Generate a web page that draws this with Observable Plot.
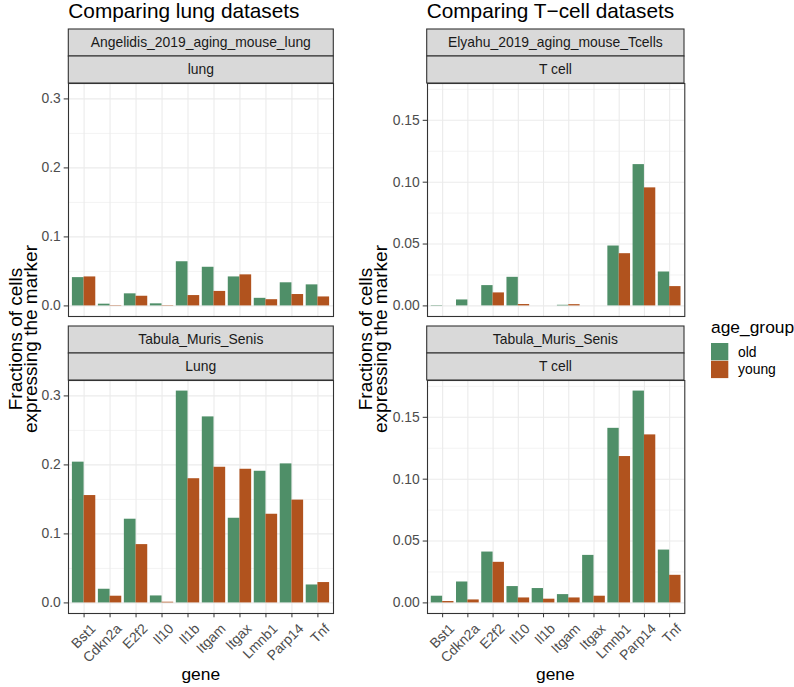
<!DOCTYPE html>
<html><head><meta charset="utf-8">
<script src="https://cdn.jsdelivr.net/npm/d3@7"></script>
<script src="https://cdn.jsdelivr.net/npm/@observablehq/plot@0.6"></script>
<style>
body{margin:0;background:#fff;}
#chart{position:relative;width:794px;height:687px;overflow:hidden;font-family:"Liberation Sans",Arial,Helvetica,sans-serif;}
#chart svg{position:absolute;}
svg.panel g[aria-label^="y-axis"] text{fill:#4D4D4D;}
</style></head><body><div id="chart"></div>
<script>
// ---- data ----
const genes = ["Bst1","Cdkn2a","E2f2","Il10","Il1b","Itgam","Itgax","Lmnb1","Parp14","Tnf"];
const ageGroups = ["old","young"];
const ageColors = ["#4F8F68","#B1531E"];

const angelidisLungOld   = [0.041, 0.0025, 0.0175, 0.003, 0.064, 0.056, 0.042, 0.011, 0.0335, 0.0305];
const angelidisLungYoung = [0.042, 0.0005, 0.014, 0.0005, 0.015, 0.021, 0.045, 0.009, 0.0165, 0.013];
const tmsLungOld   = [0.204, 0.0198, 0.1213, 0.0101, 0.307, 0.2696, 0.1227, 0.1908, 0.2015, 0.026];
const tmsLungYoung = [0.1556, 0.0097, 0.0845, 0.001, 0.180, 0.1966, 0.1937, 0.1285, 0.149, 0.0295];
const elyahuTcellOld   = [0.0003, 0.0048, 0.0164, 0.0231, 0, 0.0005, 0, 0.0484, 0.1142, 0.0274];
const elyahuTcellYoung = [0, 0, 0.0105, 0.0011, 0, 0.001, 0, 0.0422, 0.0954, 0.0156];
const tmsTcellOld   = [0.0054, 0.0169, 0.0411, 0.0132, 0.0116, 0.0067, 0.0384, 0.1411, 0.1712, 0.0427];
const tmsTcellYoung = [0.0011, 0.0024, 0.0328, 0.004, 0.003, 0.004, 0.0054, 0.1183, 0.1358, 0.0223];

const lungTicks  = [0, 0.1, 0.2, 0.3];
const lungMinor  = [0.05, 0.15, 0.25];
const tcellTicks = [0, 0.05, 0.10, 0.15];
const tcellMinor = [0.025, 0.075, 0.125, 0.175];

const columnTitles = ["Comparing lung datasets", "Comparing T\u2212cell datasets"];
const datasetStrips = ["Angelidis_2019_aging_mouse_lung", "Elyahu_2019_aging_mouse_Tcells", "Tabula_Muris_Senis", "Tabula_Muris_Senis"];
const cellStrips = ["lung", "T cell", "Lung", "T cell"];
const yTitleLines = ["Fractions of cells", "expressing the marker"];
const xTitle = "gene";
const legendTitle = "age_group";

// ---- layout ----
const W = 794, H = 687;
const cols = [{left: 68.3, right: 333.3}, {left: 426.7, right: 684}];
const rows = [{top: 83, bottom: 316}, {top: 380, bottom: 613}];
const stripH = 27;
const FONT = "'Liberation Sans', Arial, Helvetica, sans-serif";

const chart = document.getElementById("chart");

function panel(old, young, ticks, minor, fmt, yMax, col, row, showX) {
  const c = cols[col], r = rows[row];
  const innerW = c.right - c.left, innerH = r.bottom - r.top;
  const mL = 55, mR = 6, mT = 6, mB = showX ? H - r.bottom : 6;
  const step = innerW / (genes.length - 0.1 + 0.3);
  const half = step * 0.9 / 2;
  const rowsData = genes.map((g, i) => ({gene: g, old: old[i], young: young[i]}));
  const marks = [
    Plot.ruleY(minor, {stroke: "#EBEBEB", strokeWidth: 0.6}),
    Plot.ruleY(ticks, {stroke: "#EBEBEB", strokeWidth: 1.1}),
    Plot.ruleX(genes, {x: d => d, stroke: "#EBEBEB", strokeWidth: 1.1}),
    Plot.barY(rowsData, {x: "gene", y: "old", fill: ageColors[0], insetRight: half}),
    Plot.barY(rowsData, {x: "gene", y: "young", fill: ageColors[1], insetLeft: half}),
    Plot.frame({stroke: "#333333", strokeWidth: 1.1})
  ];
  if (showX) {
    marks.push(Plot.text(genes, {x: d => d, frameAnchor: "bottom", rotate: -45, textAnchor: "end",
      lineAnchor: "top", dx: 5.5, dy: 9, fill: "#4D4D4D", fontSize: 13.9}));
  }
  const svg = Plot.plot({
    width: mL + innerW + mR,
    height: mT + innerH + mB,
    marginLeft: mL, marginRight: mR, marginTop: mT, marginBottom: mB,
    className: "panel",
    style: {fontFamily: FONT, fontSize: "13.9px", color: "#333333", background: "transparent", overflow: "visible"},
    x: {type: "band", domain: genes, paddingInner: 0.1, paddingOuter: 0.15, align: 0.5, round: false,
        axis: showX ? "bottom" : null, tickFormat: () => "", tickSize: 4.3, label: null},
    y: {domain: [-0.05 * yMax, 1.05 * yMax], ticks: ticks, tickFormat: d3.format(fmt),
        tickSize: 4.3, tickPadding: 3.4, label: null},
    marks
  });
  svg.classList.add("panel");
  svg.style.left = (c.left - mL) + "px";
  svg.style.top = (r.top - mT) + "px";
  chart.appendChild(svg);
}

const lungMax = d3.max([...angelidisLungOld, ...angelidisLungYoung, ...tmsLungOld, ...tmsLungYoung]);
const tcellMax = d3.max([...elyahuTcellOld, ...elyahuTcellYoung, ...tmsTcellOld, ...tmsTcellYoung]);

panel(angelidisLungOld, angelidisLungYoung, lungTicks, lungMinor, ".1f", lungMax, 0, 0, false);
panel(tmsLungOld, tmsLungYoung, lungTicks, lungMinor, ".1f", lungMax, 0, 1, true);
panel(elyahuTcellOld, elyahuTcellYoung, tcellTicks, tcellMinor, ".2f", tcellMax, 1, 0, false);
panel(tmsTcellOld, tmsTcellYoung, tcellTicks, tcellMinor, ".2f", tcellMax, 1, 1, true);

// ---- overlay: titles, strips, axis titles, legend ----
const ov = d3.select(chart).append("svg")
  .attr("width", W).attr("height", H)
  .style("left", "0px").style("top", "0px")
  .style("font-family", FONT);

// strips
[0, 1].forEach(row => [0, 1].forEach(col => {
  const c = cols[col], r = rows[row];
  const idx = row * 2 + col;
  const labels = [datasetStrips[idx], cellStrips[idx]];
  labels.forEach((lab, k) => {
    const y0 = r.top - stripH * (2 - k);
    ov.append("rect").attr("x", c.left).attr("y", y0).attr("width", c.right - c.left).attr("height", stripH)
      .attr("fill", "#D9D9D9").attr("stroke", "#333333").attr("stroke-width", 1.1);
    ov.append("text").attr("x", (c.left + c.right) / 2).attr("y", y0 + stripH / 2)
      .attr("dy", "0.35em").attr("text-anchor", "middle").attr("font-size", 13.9)
      .attr("fill", "#1A1A1A").text(lab);
  });
}));

// column titles
columnTitles.forEach((t, col) => {
  ov.append("text").attr("x", cols[col].left).attr("y", 17.5)
    .attr("font-size", 20.8).attr("fill", "#000").text(t);
});

// y titles
const yTitleX = [[21.5, 36.5], [371.5, 386.5]];
[0, 1].forEach(col => {
  yTitleLines.forEach((line, k) => {
    ov.append("text")
      .attr("transform", `translate(${yTitleX[col][k]},339) rotate(-90)`)
      .attr("text-anchor", "middle").attr("font-size", 19).attr("fill", "#000").text(line);
  });
  ov.append("text").attr("x", (cols[col].left + cols[col].right) / 2).attr("y", 680)
    .attr("text-anchor", "middle").attr("font-size", 17.4).attr("fill", "#000").text(xTitle);
});

// legend
const lg = ov.append("g");
lg.append("text").attr("x", 711).attr("y", 333).attr("font-size", 17.4).attr("fill", "#000").text(legendTitle);
ageGroups.forEach((g, i) => {
  const y0 = 343 + i * 17.8;
  lg.append("rect").attr("x", 711).attr("y", y0).attr("width", 17.3).attr("height", 17.3).attr("fill", ageColors[i]);
  lg.append("text").attr("x", 738).attr("y", y0 + 8.65).attr("dy", "0.35em")
    .attr("font-size", 13.9).attr("fill", "#000").text(g);
});
</script></body></html>
